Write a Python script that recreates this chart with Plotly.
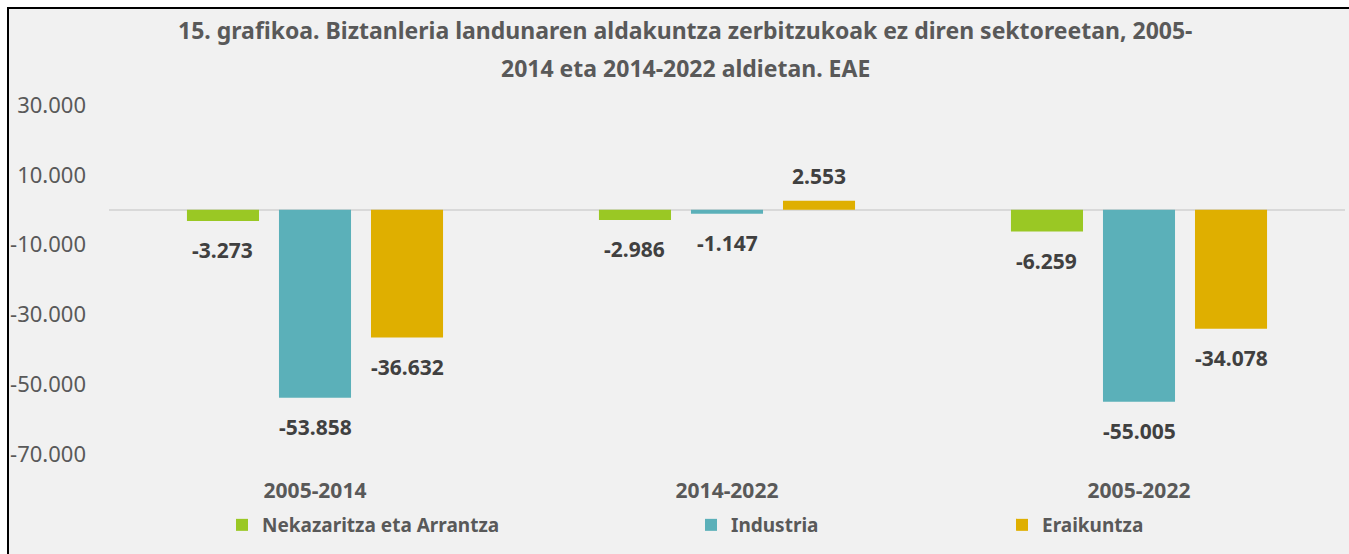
import plotly.graph_objects as go

categories = ["2005-2014", "2014-2022", "2005-2022"]
series_names = ["Nekazaritza eta Arrantza", "Industria", "Eraikuntza"]
nekazaritza = [-3273, -2986, -6259]
industria = [-53858, -1147, -55005]
eraikuntza = [-36632, 2553, -34078]
tick_values = [-70000, -50000, -30000, -10000, 10000, 30000]

title_line1 = "15. grafikoa. Biztanleria landunaren aldakuntza zerbitzukoak ez diren sektoreetan, 2005-"
title_line2 = "2014 eta 2014-2022 aldietan. EAE"

colors = ["#9AC824", "#5BB0B9", "#DFAF00"]
FONT = "Noto Sans"

W, H = 1349, 554
ML, MR, MT, MB = 109, 4, 105, 100
PW, PH = W - ML - MR, H - MT - MB
BARGAP, GROUPGAP = 0.33, 0.217


def px_x(px):
    return (px - ML) / PW


def px_y(py):
    return (MT + PH - py) / PH


def fmt(v):
    return "{:,}".format(v).replace(",", ".")


fig = go.Figure()
legend_ids = ["legend", "legend2", "legend3"]
all_series = [nekazaritza, industria, eraikuntza]
for name, vals, col, lg in zip(series_names, all_series, colors, legend_ids):
    fig.add_trace(go.Bar(
        x=categories, y=vals, name=name, marker=dict(color=col, line=dict(width=0)),
        legend=lg, showlegend=True,
    ))

# data labels, placed at each bar's end through the axes
slot_px = PW / len(categories) * (1 - BARGAP) / len(all_series)
annotations = []
for i, vals in enumerate(all_series):
    for cat, v in zip(categories, vals):
        annotations.append(dict(
            x=cat, y=v, xref="x", yref="y", text=fmt(v), showarrow=False,
            xshift=(i - (len(all_series) - 1) / 2) * slot_px,
            yshift=-29 if v < 0 else 25,
            xanchor="center", yanchor="middle",
            font=dict(family=FONT, size=21, color="#404040", weight="bold"),
        ))

title_font = dict(family=FONT, size=23, color="#595959", weight="bold")
annotations += [
    dict(text=title_line1, xref="paper", yref="paper", x=px_x(685), y=px_y(30),
         xanchor="center", yanchor="middle", showarrow=False, font=title_font),
    dict(text=title_line2, xref="paper", yref="paper", x=px_x(685), y=px_y(68),
         xanchor="center", yanchor="middle", showarrow=False, font=title_font),
]

legend_common = dict(orientation="h", yanchor="middle", y=px_y(525), xanchor="left",
                     bgcolor="rgba(0,0,0,0)",
                     font=dict(family=FONT, size=19, color="#595959", weight="bold"))

fig.update_layout(
    width=W, height=H,
    margin=dict(l=ML, r=MR, t=MT, b=MB, autoexpand=False),
    paper_bgcolor="white", plot_bgcolor="#F1F1F1",
    barmode="group", bargap=BARGAP, bargroupgap=GROUPGAP,
    font=dict(family=FONT),
    showlegend=True,
    legend=dict(x=px_x(222), **legend_common),
    legend2=dict(x=px_x(691), **legend_common),
    legend3=dict(x=px_x(1002), **legend_common),
    xaxis=dict(showgrid=False, showline=False, ticks="", automargin=False,
               tickfont=dict(family=FONT, size=21, color="#595959", weight="bold"),
               ticklabelstandoff=22),
    yaxis=dict(range=[-70000, 30000], tickvals=tick_values, automargin=False,
               ticktext=[fmt(v) for v in tick_values],
               showgrid=False, zeroline=True, zerolinecolor="#D9D9D9", zerolinewidth=2,
               tickfont=dict(family=FONT, size=22, color="#595959"),
               ticklabelstandoff=22),
    shapes=[
        dict(type="rect", xref="paper", yref="paper",
             x0=px_x(8), x1=px_x(W + 20), y0=px_y(H + 20), y1=px_y(8),
             fillcolor="#F1F1F1", line=dict(color="black", width=2), layer="below"),
    ],
    annotations=annotations,
)

fig.write_html("out.html", config={"displayModeBar": False},
               post_script="document.body.style.margin='0px';document.body.style.overflow='hidden';")
